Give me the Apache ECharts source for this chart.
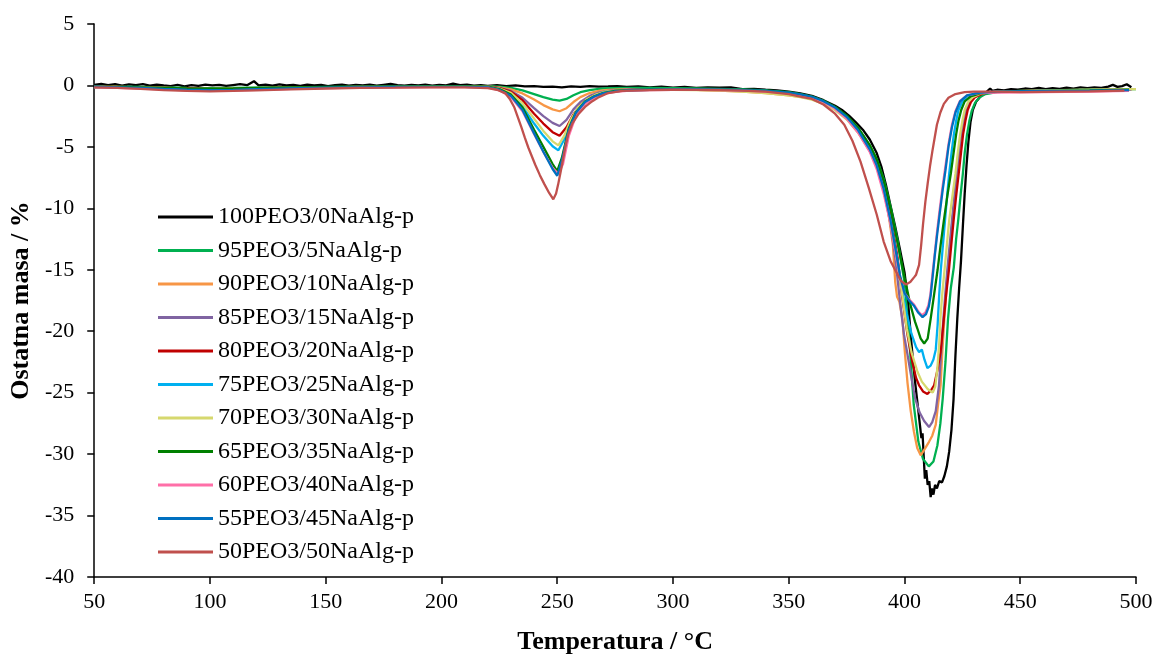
<!DOCTYPE html>
<html>
<head>
<meta charset="utf-8">
<script src="https://cdn.jsdelivr.net/npm/echarts@6/dist/echarts.min.js"></script>
<style>
html,body{margin:0;padding:0;background:#fff;}
#chart{width:1161px;height:660px;}
</style>
</head>
<body>
<div id="chart"></div>
<script>
var seriesNames = ['100PEO3/0NaAlg-p','95PEO3/5NaAlg-p','90PEO3/10NaAlg-p','85PEO3/15NaAlg-p','80PEO3/20NaAlg-p','75PEO3/25NaAlg-p','70PEO3/30NaAlg-p','65PEO3/35NaAlg-p','60PEO3/40NaAlg-p','55PEO3/45NaAlg-p','50PEO3/50NaAlg-p'];
var seriesColors = ['#000000','#00B050','#F79646','#8064A2','#C00000','#00B0F0','#D6D86E','#008000','#FF6FA8','#0070C0','#C0504D'];

var s100 = [[50,0.05],[53,0.12],[56,0.02],[59,0.1],[62,-0.02],[65,0.08],[68,0.03],[71,0.11],[74,-0.01],[77,0.06],[80,0.0],[83,-0.05],[86,0.04],[89,-0.08],[92,0.02],[95,-0.03],[98,0.06],[101,0.0],[104,0.05],[107,-0.04],[110,0.03],[113,0.1],[116,0.02],[119,0.35],[121,0.0],[124,0.07],[127,-0.02],[130,0.08],[133,0.0],[136,0.05],[139,-0.03],[142,0.06],[145,0.0],[148,0.04],[151,-0.05],[154,0.03],[157,0.06],[160,-0.02],[163,0.05],[166,0.0],[169,0.07],[172,-0.02],[175,0.05],[178,0.12],[181,0.02],[184,-0.02],[187,0.05],[190,0.0],[193,0.06],[196,-0.02],[199,0.04],[202,0.0],[205,0.15],[208,0.02],[211,0.06],[214,-0.02],[217,0.03],[220,-0.03],[224,0.02],[228,-0.05],[232,0.0],[236,-0.08],[240,-0.05],[244,-0.12],[248,-0.1],[252,-0.15],[256,-0.08],[260,-0.12],[264,-0.05],[268,-0.1],[272,-0.08],[276,-0.05],[280,-0.12],[285,-0.08],[290,-0.15],[295,-0.1],[300,-0.18],[305,-0.12],[310,-0.2],[315,-0.15],[320,-0.18],[325,-0.15],[330,-0.3],[335,-0.28],[340,-0.35],[345,-0.4],[350,-0.5],[355,-0.65],[360,-0.85],[365,-1.2],[370,-1.65],[373,-2.0],[376,-2.45],[379,-3.0],[382,-3.6],[385,-4.4],[388,-5.5],[390,-6.6],[392,-8.1],[394,-9.8],[396,-11.5],[398,-13.3],[400,-15.2],[401.5,-17.5],[403,-21.0],[404.5,-24.0],[406,-26.5],[407.3,-28.7],[407.8,-28.3],[408.3,-30.2],[408.8,-32.0],[409.4,-31.3],[410,-32.5],[410.7,-32.2],[411.3,-33.5],[411.9,-32.8],[412.5,-33.3],[413.2,-32.5],[414,-32.8],[415,-32.2],[416.2,-32.3],[417.2,-31.8],[418.3,-31.0],[419.3,-29.8],[420.3,-28.0],[421.2,-25.5],[422,-22.0],[422.8,-19.0],[423.6,-16.5],[424.4,-14.3],[425.2,-11.5],[426,-8.8],[426.8,-6.5],[427.6,-4.6],[428.5,-3.0],[429.5,-2.0],[431,-1.3],[433,-0.85],[435,-0.6],[437,-0.25],[438,-0.45],[440,-0.35],[443,-0.4],[446,-0.3],[449,-0.35],[452,-0.25],[455,-0.3],[458,-0.2],[461,-0.3],[464,-0.22],[467,-0.28],[470,-0.18],[473,-0.25],[476,-0.15],[479,-0.22],[482,-0.15],[485,-0.2],[488,-0.1],[490,0.05],[492,-0.12],[494,-0.05],[496,0.1],[498,-0.15]];

var s95 = [[50,-0.15],[60,-0.1],[70,-0.12],[80,-0.15],[90,-0.2],[100,-0.22],[110,-0.2],[120,-0.18],[135,-0.15],[150,-0.12],[165,-0.1],[180,-0.08],[195,-0.08],[210,-0.06],[220,-0.06],[225,-0.1],[230,-0.2],[235,-0.4],[240,-0.7],[244,-0.95],[248,-1.15],[251,-1.24],[254,-1.1],[257,-0.8],[260,-0.55],[264,-0.38],[268,-0.28],[272,-0.22],[280,-0.2],[290,-0.2],[300,-0.22],[310,-0.25],[320,-0.28],[330,-0.32],[340,-0.4],[350,-0.55],[355,-0.7],[360,-0.9],[365,-1.25],[370,-1.75],[375,-2.45],[380,-3.5],[385,-4.9],[388,-6.0],[391,-7.6],[394,-9.9],[397,-12.6],[400,-16.0],[402,-20.5],[404,-26.0],[406,-29.0],[408,-30.4],[410.5,-31.0],[412.5,-30.6],[414.2,-29.3],[415.5,-27.5],[416.5,-25.5],[417.7,-22.5],[418.8,-19.0],[420,-16.5],[421.3,-14.8],[422.3,-12.5],[423.3,-10.8],[424.3,-8.8],[425.2,-7.2],[426,-5.5],[427,-4.0],[428,-2.9],[429,-2.1],[430.5,-1.4],[432.5,-0.95],[435,-0.7],[440,-0.55],[450,-0.45],[465,-0.4],[480,-0.35],[500,-0.3]];

var s90 = [[50,-0.1],[60,-0.12],[70,-0.15],[80,-0.2],[90,-0.25],[100,-0.28],[110,-0.25],[120,-0.22],[135,-0.18],[150,-0.15],[165,-0.12],[180,-0.1],[195,-0.1],[210,-0.08],[220,-0.1],[225,-0.15],[230,-0.32],[235,-0.65],[240,-1.15],[244,-1.6],[248,-1.95],[251,-2.1],[254,-1.85],[257,-1.35],[260,-0.95],[264,-0.62],[268,-0.45],[272,-0.36],[280,-0.3],[290,-0.3],[300,-0.32],[310,-0.36],[320,-0.42],[330,-0.5],[340,-0.62],[350,-0.8],[355,-0.92],[360,-1.1],[365,-1.4],[370,-1.95],[375,-2.7],[380,-3.8],[385,-5.3],[388,-6.6],[391,-8.5],[393,-10.3],[395,-13.0],[396,-16.0],[396.8,-17.2],[397.8,-17.6],[399.1,-19.0],[400.2,-21.8],[401.3,-24.2],[402.7,-26.5],[404.1,-28.2],[405.5,-29.5],[407,-30.1],[408.7,-29.6],[410.6,-29.0],[412,-28.5],[413.5,-27.6],[414.6,-25.8],[415.6,-24.4],[416.4,-21.5],[417.2,-19.0],[418,-17.0],[418.8,-15.0],[419.8,-13.0],[420.7,-11.0],[421.6,-9.1],[422.6,-7.2],[423.6,-5.5],[424.6,-4.0],[425.6,-2.9],[426.6,-2.0],[428,-1.3],[430,-0.9],[434,-0.62],[440,-0.5],[460,-0.45],[480,-0.4],[498,-0.35]];

var s85 = [[50,-0.12],[60,-0.15],[70,-0.2],[80,-0.25],[90,-0.3],[100,-0.32],[110,-0.3],[120,-0.25],[135,-0.2],[150,-0.15],[165,-0.12],[180,-0.1],[195,-0.1],[210,-0.1],[220,-0.1],[225,-0.2],[230,-0.45],[235,-1.0],[240,-1.85],[244,-2.5],[248,-3.05],[251,-3.3],[254,-2.8],[257,-1.95],[260,-1.35],[264,-0.85],[268,-0.58],[272,-0.45],[280,-0.35],[290,-0.3],[300,-0.3],[310,-0.32],[320,-0.35],[330,-0.4],[340,-0.5],[350,-0.68],[355,-0.85],[360,-1.05],[365,-1.4],[370,-1.95],[375,-2.7],[380,-3.8],[385,-5.3],[388,-6.6],[391,-8.5],[394,-11.3],[396,-14.0],[398,-17.5],[399.8,-20.3],[401.3,-21.9],[403,-23.8],[404.5,-25.4],[406.5,-26.6],[408.5,-27.3],[410.6,-27.8],[412,-27.4],[413.5,-26.5],[414.9,-24.4],[415.9,-21.5],[416.8,-19.0],[417.6,-17.0],[418.5,-15.0],[419.5,-13.0],[420.5,-11.0],[421.5,-9.1],[422.5,-7.2],[423.5,-5.5],[424.5,-4.0],[425.5,-2.9],[426.5,-2.0],[428,-1.3],[430,-0.9],[434,-0.62],[440,-0.5],[460,-0.45],[480,-0.4],[498,-0.35]];

var s80 = [[50,-0.1],[60,-0.12],[70,-0.15],[80,-0.2],[90,-0.25],[100,-0.3],[110,-0.28],[120,-0.22],[135,-0.18],[150,-0.15],[165,-0.12],[180,-0.1],[195,-0.1],[210,-0.08],[220,-0.1],[225,-0.22],[230,-0.5],[235,-1.2],[240,-2.3],[244,-3.1],[248,-3.8],[251,-4.1],[254,-3.4],[257,-2.35],[260,-1.6],[264,-1.0],[268,-0.68],[272,-0.5],[280,-0.38],[290,-0.32],[300,-0.3],[310,-0.3],[320,-0.32],[330,-0.38],[340,-0.48],[350,-0.62],[355,-0.78],[360,-0.98],[365,-1.3],[370,-1.8],[375,-2.5],[380,-3.55],[385,-5.0],[388,-6.2],[391,-8.0],[394,-10.6],[397,-14.0],[399,-17.2],[401.3,-20.3],[403.5,-22.6],[405,-23.8],[406.3,-24.4],[408,-24.9],[409.9,-25.1],[411.5,-24.8],[412.8,-24.4],[414.2,-23.2],[415.6,-21.7],[417,-19.0],[418,-17.0],[419.2,-15.0],[420.2,-13.0],[421.2,-11.0],[422.3,-9.0],[423.4,-7.2],[424.4,-5.5],[425.3,-4.0],[426.3,-2.9],[427.3,-2.0],[428.7,-1.35],[430.5,-0.95],[434,-0.65],[440,-0.5],[460,-0.42],[480,-0.38],[497,-0.32]];

var s75 = [[50,-0.12],[60,-0.15],[70,-0.18],[80,-0.25],[90,-0.3],[100,-0.33],[110,-0.32],[120,-0.26],[135,-0.2],[150,-0.16],[165,-0.12],[180,-0.1],[195,-0.1],[210,-0.1],[220,-0.12],[225,-0.28],[230,-0.7],[235,-1.7],[240,-3.1],[244,-4.1],[248,-4.95],[250.5,-5.28],[253,-4.4],[256,-2.9],[259,-1.9],[263,-1.15],[267,-0.75],[271,-0.52],[278,-0.4],[290,-0.32],[300,-0.3],[310,-0.3],[320,-0.32],[330,-0.36],[340,-0.45],[350,-0.6],[355,-0.75],[360,-0.95],[365,-1.3],[370,-1.85],[375,-2.6],[380,-3.7],[385,-5.2],[388,-6.5],[391,-8.4],[394,-11.0],[397,-14.3],[399,-16.8],[401,-18.6],[403,-20.2],[405,-21.3],[406.3,-21.7],[407.5,-21.5],[408.6,-22.3],[409.9,-23.0],[411.3,-22.8],[412.5,-22.3],[413.5,-21.5],[414.3,-19.5],[415,-17.0],[415.7,-15.0],[416.6,-13.0],[417.5,-11.0],[418.4,-9.0],[419.3,-7.2],[420.3,-5.5],[421.3,-4.0],[422.3,-2.9],[423.3,-2.0],[425,-1.3],[427,-0.9],[431,-0.62],[440,-0.5],[460,-0.45],[480,-0.4],[497,-0.35]];

var s70 = [[50,-0.12],[60,-0.14],[70,-0.18],[80,-0.22],[90,-0.28],[100,-0.3],[110,-0.28],[120,-0.24],[135,-0.2],[150,-0.16],[165,-0.13],[180,-0.12],[195,-0.1],[210,-0.1],[220,-0.12],[225,-0.25],[230,-0.6],[235,-1.45],[240,-2.7],[244,-3.7],[248,-4.55],[250.5,-4.88],[253,-4.1],[256,-2.75],[259,-1.8],[263,-1.1],[267,-0.72],[271,-0.5],[278,-0.4],[290,-0.35],[300,-0.35],[310,-0.38],[320,-0.42],[330,-0.5],[340,-0.62],[350,-0.8],[355,-0.95],[360,-1.15],[365,-1.5],[370,-2.0],[375,-2.75],[380,-3.85],[385,-5.3],[388,-6.6],[391,-8.5],[394,-11.2],[397,-14.5],[399,-17.0],[401,-19.8],[403,-21.7],[405.6,-23.3],[407.5,-24.1],[410,-24.7],[412.2,-25.0],[413.3,-24.5],[414.2,-23.0],[415,-21.0],[415.5,-19.0],[416.3,-17.0],[417.3,-15.0],[418.3,-13.0],[419.3,-11.0],[420.7,-9.0],[422,-7.2],[423,-5.5],[424,-4.0],[425,-2.9],[426,-2.0],[427.5,-1.35],[429.5,-0.95],[433,-0.65],[440,-0.5],[460,-0.4],[480,-0.35],[500,-0.3]];

var s65 = [[50,-0.1],[60,-0.12],[70,-0.15],[80,-0.2],[90,-0.24],[100,-0.26],[110,-0.25],[120,-0.2],[135,-0.16],[150,-0.13],[165,-0.1],[180,-0.08],[195,-0.08],[210,-0.08],[220,-0.1],[225,-0.3],[230,-0.75],[235,-1.8],[240,-3.6],[244,-5.0],[248,-6.4],[250,-6.97],[252,-5.9],[255,-3.5],[258,-2.2],[262,-1.3],[266,-0.88],[270,-0.6],[275,-0.45],[280,-0.38],[290,-0.32],[300,-0.3],[310,-0.3],[320,-0.32],[330,-0.36],[340,-0.45],[350,-0.58],[355,-0.72],[360,-0.92],[365,-1.25],[370,-1.75],[375,-2.45],[380,-3.45],[385,-4.85],[388,-6.0],[391,-7.7],[394,-10.0],[397,-12.8],[400,-15.6],[402.5,-17.8],[404.5,-19.2],[405.6,-19.8],[407,-20.6],[408.5,-21.0],[410,-20.6],[411.3,-19.0],[412.8,-17.0],[414.3,-15.0],[415.6,-13.0],[417,-11.0],[418.5,-9.0],[420,-7.2],[421.2,-5.5],[422.3,-4.0],[423.3,-2.9],[424.5,-2.0],[426,-1.3],[428.5,-0.9],[433,-0.62],[440,-0.5],[460,-0.45],[480,-0.4],[497,-0.35]];

var s60 = [[50,-0.15],[60,-0.2],[70,-0.25],[80,-0.32],[90,-0.4],[100,-0.42],[110,-0.4],[120,-0.35],[135,-0.28],[150,-0.22],[165,-0.18],[180,-0.15],[195,-0.14],[210,-0.14],[220,-0.16],[225,-0.4],[230,-0.95],[235,-2.1],[240,-3.95],[244,-5.4],[248,-6.7],[250.5,-7.2],[252.5,-6.4],[255,-4.1],[258,-2.5],[262,-1.5],[266,-0.98],[270,-0.68],[275,-0.52],[280,-0.45],[290,-0.38],[300,-0.35],[310,-0.35],[320,-0.37],[330,-0.42],[340,-0.5],[350,-0.65],[355,-0.8],[360,-1.0],[365,-1.35],[370,-1.9],[375,-2.7],[380,-3.85],[385,-5.4],[388,-6.8],[391,-8.8],[394,-11.3],[396,-13.5],[398,-15.6],[400,-16.9],[402,-17.4],[404,-17.8],[406,-18.4],[407.5,-18.7],[409,-18.5],[410.3,-17.9],[411.2,-17.0],[412,-15.5],[413,-13.8],[414,-12.0],[415.2,-10.1],[416.4,-8.3],[417.6,-6.7],[419,-4.8],[420.5,-3.2],[422,-2.1],[424,-1.25],[427,-0.8],[432,-0.62],[440,-0.58],[460,-0.55],[480,-0.5],[497,-0.45]];

var s55 = [[50,-0.1],[60,-0.15],[70,-0.2],[80,-0.28],[90,-0.35],[100,-0.38],[110,-0.36],[120,-0.3],[135,-0.24],[150,-0.18],[165,-0.15],[180,-0.12],[195,-0.12],[210,-0.12],[220,-0.15],[225,-0.35],[230,-0.85],[235,-2.0],[240,-3.9],[244,-5.4],[248,-6.8],[250,-7.35],[252,-6.1],[255,-3.6],[258,-2.25],[262,-1.35],[266,-0.9],[270,-0.62],[275,-0.48],[280,-0.4],[290,-0.35],[300,-0.32],[310,-0.32],[320,-0.34],[330,-0.38],[340,-0.45],[350,-0.58],[355,-0.72],[360,-0.92],[365,-1.28],[370,-1.8],[375,-2.55],[380,-3.65],[385,-5.2],[388,-6.5],[391,-8.4],[394,-11.0],[396,-13.2],[398,-15.4],[400,-16.9],[402,-17.5],[404,-17.9],[406,-18.5],[407.8,-18.85],[409.3,-18.6],[410.5,-18.0],[411.3,-17.1],[412.2,-15.5],[413,-14.0],[414,-12.3],[415.3,-10.3],[416.5,-8.5],[417.7,-6.9],[419,-5.0],[420.5,-3.4],[422,-2.2],[424,-1.3],[427,-0.8],[432,-0.6],[440,-0.5],[460,-0.45],[480,-0.42],[497,-0.38]];

var s50 = [[50,-0.15],[60,-0.2],[70,-0.28],[80,-0.38],[90,-0.45],[100,-0.48],[110,-0.45],[120,-0.4],[135,-0.32],[150,-0.25],[165,-0.2],[180,-0.18],[195,-0.15],[210,-0.15],[220,-0.22],[224,-0.35],[227.5,-0.62],[229.5,-1.1],[231.5,-1.8],[233,-2.6],[234.5,-3.4],[236,-4.25],[237.5,-5.05],[240.5,-6.45],[242.5,-7.3],[244.5,-8.05],[246.5,-8.75],[248.3,-9.26],[249.5,-8.8],[250.4,-8.05],[251.5,-7.0],[252.6,-5.9],[253.6,-4.9],[254.7,-4.0],[256.5,-3.1],[259,-2.37],[262,-1.75],[265,-1.3],[268,-0.95],[272,-0.62],[278,-0.45],[290,-0.38],[300,-0.35],[310,-0.36],[320,-0.38],[330,-0.42],[340,-0.5],[350,-0.7],[355,-0.9],[360,-1.1],[365,-1.55],[370,-2.3],[374,-3.2],[377.5,-4.5],[381,-6.2],[384.5,-8.3],[388,-10.5],[391,-12.7],[394,-14.3],[396.5,-15.2],[398.5,-15.9],[400.6,-16.2],[402.5,-16.0],[404.2,-15.6],[405,-15.4],[406.3,-14.6],[407.2,-13.0],[408,-11.3],[409,-9.5],[410,-8.0],[411,-6.6],[412,-5.4],[413,-4.3],[414,-3.2],[415.5,-2.2],[417,-1.5],[419,-1.0],[422,-0.7],[426,-0.55],[430,-0.5],[440,-0.5],[450,-0.55],[460,-0.52],[470,-0.5],[480,-0.48],[495,-0.42]];

var seriesData = [s100,s95,s90,s85,s80,s75,s70,s65,s60,s55,s50];
var xTicks = {min:50, max:500, interval:50};
var yTicks = {min:-40, max:5, interval:5};

var serif = 'Liberation Serif, Times New Roman, serif';
var chart = echarts.init(document.getElementById('chart'), null, {renderer:'canvas'});
var series = seriesNames.map(function(n,i){
  return {
    name:n, type:'line', data:seriesData[i], symbol:'none', showSymbol:false,
    lineStyle:{color:seriesColors[i], width:2.3},
    itemStyle:{color:seriesColors[i]},
    animation:false, z:2+i
  };
});
chart.setOption({
  animation:false,
  backgroundColor:'#ffffff',
  grid:{left:92, right:25, top:24, bottom:81, containLabel:false},
  legend:{
    data:seriesNames.map(function(n,i){return {name:n, icon:'rect', itemStyle:{color:seriesColors[i]}};}),
    orient:'vertical', left:153, top:200,
    itemWidth:55, itemHeight:3, itemGap:9.5,
    textStyle:{fontFamily:serif, fontSize:24, color:'#000', lineHeight:24},
    selectedMode:false
  },
  xAxis:{
    type:'value', min:xTicks.min, max:xTicks.max, interval:xTicks.interval,
    name:'Temperatura / °C', nameLocation:'middle', nameGap:52,
    nameTextStyle:{fontFamily:serif, fontSize:26, fontWeight:'bold', color:'#000'},
    axisLine:{onZero:false, lineStyle:{color:'#000', width:1.5}},
    axisTick:{show:true, inside:false, length:7, lineStyle:{color:'#000', width:1.5}},
    axisLabel:{fontFamily:serif, fontSize:22, color:'#000', margin:14},
    splitLine:{show:false}
  },
  yAxis:{
    type:'value', min:yTicks.min, max:yTicks.max, interval:yTicks.interval,
    name:'Ostatna masa / %', nameLocation:'middle', nameGap:53,
    nameTextStyle:{fontFamily:serif, fontSize:26, fontWeight:'bold', color:'#000'},
    axisLine:{onZero:false, lineStyle:{color:'#000', width:1.5}},
    axisTick:{show:true, inside:false, length:7, lineStyle:{color:'#000', width:1.5}},
    axisLabel:{fontFamily:serif, fontSize:22, color:'#000', margin:20},
    splitLine:{show:false}
  },
  series:series
});
</script>
</body>
</html>
